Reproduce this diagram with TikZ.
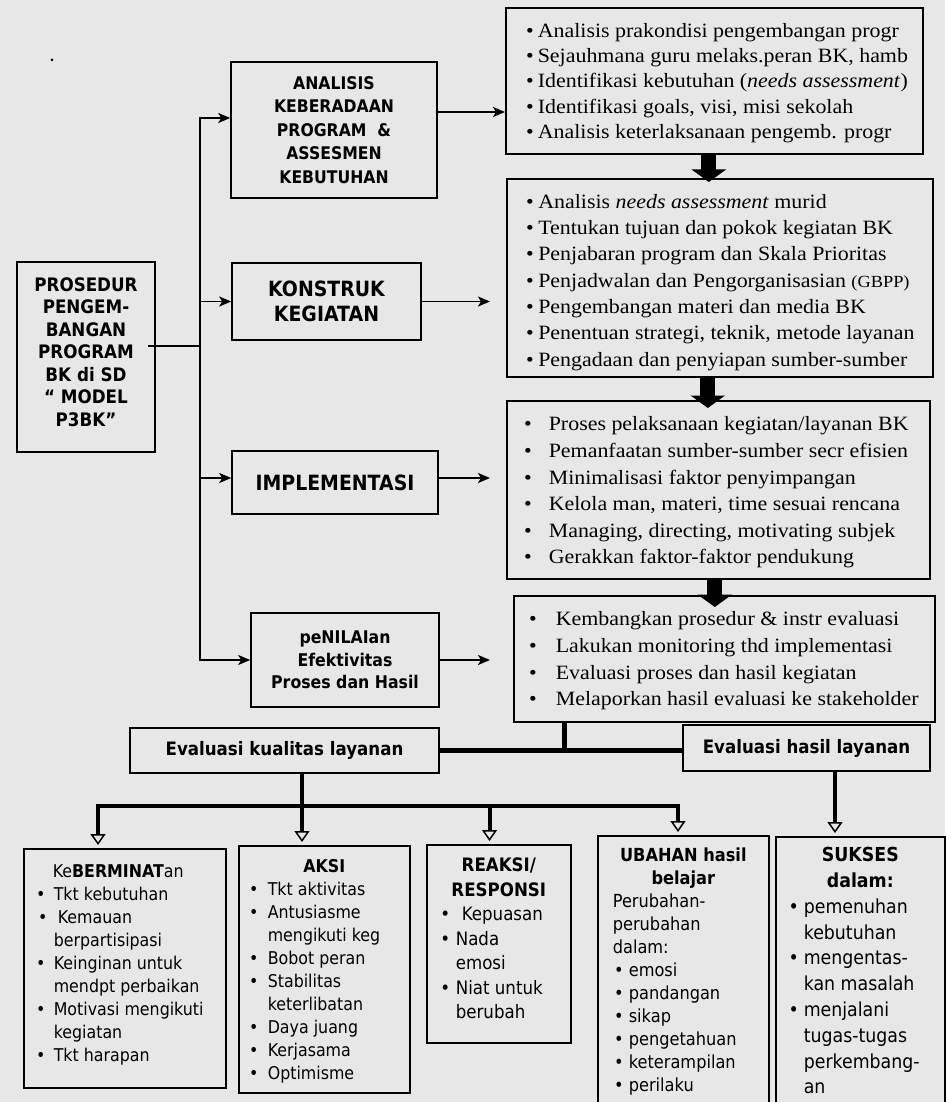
\documentclass[tikz,border=0pt]{standalone}
\usepackage{fontspec}
\setmainfont{Liberation Serif}[FakeStretch=1.08]
\newfontfamily\tah{DejaVu Sans}[FakeStretch=0.9]
\usetikzlibrary{arrows.meta,calc}
\definecolor{paper}{RGB}{231,231,231}
\newcommand{\bi}[3]{\hspace*{#1}\makebox[#2][l]{•}#3}
\tikzset{
  box/.style={draw=black, line width=1.6pt, inner sep=0pt},
  lbox/.style={box, align=center},
  conn/.style={line width=1.8pt},
  arr/.style={conn, -{Stealth[length=12pt,width=10pt,inset=3pt]}},
  blk/.style={line width=15pt, -{Triangle[width=34pt,length=12.5pt]}},
  thk/.style={line width=5pt},
  oarr/.style={line width=4pt, -{Triangle[open,length=11pt,width=15pt,line width=1.5pt]}, shorten >=3pt},
}
\begin{document}
\begin{tikzpicture}[x=1pt,y=-1pt]
\useasboundingbox (0,0) rectangle (945,1102);
\fill[paper] (0,0) rectangle (945,1102);
\fill (52,60) circle[radius=1.5pt];

% ---------- left column ----------
\node[lbox, minimum width=138pt, minimum height=190pt, font={\tah\bfseries\fontsize{18.6}{22.5}\selectfont}] (p) at (86,357)
  {PROSEDUR\\PENGEM-\\BANGAN\\PROGRAM\\BK di SD\\“ MODEL\\P3BK”\\[-12pt]\mbox{}};
\node[lbox, minimum width=206pt, minimum height=136pt, font={\tah\bfseries\fontsize{17.4}{23.5}\selectfont}] (a) at (334,130)
  {ANALISIS\\KEBERADAAN\\PROGRAM~~\&\\ASSESMEN\\KEBUTUHAN};
\node[lbox, minimum width=189pt, minimum height=77pt, font={\tah\bfseries\fontsize{21}{25}\selectfont}] (k) at (326.5,301.5)
  {KONSTRUK\\KEGIATAN};
\node[lbox, minimum width=206pt, minimum height=63pt, font={\tah\bfseries\fontsize{21}{25}\selectfont}] (i) at (335,482.5)
  {IMPLEMENTASI};
\node[lbox, minimum width=188pt, minimum height=94pt, font={\tah\bfseries\fontsize{17.5}{22.5}\selectfont}] (n) at (345,660)
  {peNILAIan\\Efektivitas\\Proses dan Hasil};

% ---------- right column ----------
\node[box, anchor=north west] (b1) at (505,7) {\parbox[c][146pt][t]{417pt}{\fontsize{20.3}{25.3}\selectfont\vspace*{11.8pt}%
\strut\bi{20.2pt}{11.8pt}{Analisis prakondisi pengembangan progr}\\
\bi{20.2pt}{11.8pt}{Sejauhmana guru melaks.peran BK, hamb}\\
\bi{20.2pt}{11.8pt}{Identifikasi kebutuhan (\textit{needs assessment})}\\
\bi{20.2pt}{11.8pt}{Identifikasi goals, visi, misi sekolah}\\
\bi{20.2pt}{11.8pt}{Analisis keterlaksanaan pengemb. progr}}};
\node[box, anchor=north west] (b2) at (506,178) {\parbox[c][198pt][t]{426pt}{\fontsize{20.3}{26.3}\selectfont\vspace*{11.1pt}%
\strut\bi{19.2pt}{12.3pt}{Analisis \textit{needs assessment} murid}\\
\bi{19.2pt}{12.3pt}{Tentukan tujuan dan pokok kegiatan BK}\\
\bi{19.2pt}{12.3pt}{Penjabaran program dan Skala Prioritas}\\
\bi{19.2pt}{12.3pt}{Penjadwalan dan Pengorganisasian {\fontsize{17}{26.3}\selectfont(GBPP)}}\\
\bi{19.2pt}{12.3pt}{Pengembangan materi dan media BK}\\
\bi{19.2pt}{12.3pt}{Penentuan strategi, teknik, metode layanan}\\
\bi{19.2pt}{12.3pt}{Pengadaan dan penyiapan sumber-sumber}}};
\node[box, anchor=north west] (b3) at (506,400) {\parbox[c][178pt][t]{423pt}{\fontsize{20.3}{26.6}\selectfont\vspace*{11.4pt}%
\strut\bi{17.2pt}{24.8pt}{Proses pelaksanaan kegiatan/layanan BK}\\
\bi{17.2pt}{24.8pt}{Pemanfaatan sumber-sumber secr efisien}\\
\bi{17.2pt}{24.8pt}{Minimalisasi faktor penyimpangan}\\
\bi{17.2pt}{24.8pt}{Kelola man, materi, time sesuai rencana}\\
\bi{17.2pt}{24.8pt}{Managing, directing, motivating subjek}\\
\bi{17.2pt}{24.8pt}{Gerakkan faktor-faktor pendukung}}};
\node[box, anchor=north west] (b4) at (513,595) {\parbox[c][126pt][t]{421pt}{\fontsize{20.3}{26.7}\selectfont\vspace*{11.3pt}%
\strut\bi{15.2pt}{26.8pt}{Kembangkan prosedur \& instr evaluasi}\\
\bi{15.2pt}{26.8pt}{Lakukan monitoring thd implementasi}\\
\bi{15.2pt}{26.8pt}{Evaluasi proses dan hasil kegiatan}\\
\bi{15.2pt}{26.8pt}{Melaporkan hasil evaluasi ke stakeholder}}};

% ---------- evaluation row ----------
\node[lbox, minimum width=309pt, minimum height=45pt, font={\tah\bfseries\fontsize{18.5}{22}\selectfont}] (ek) at (284.5,750.5)
  {Evaluasi kualitas layanan};
\node[lbox, minimum width=247pt, minimum height=46pt, font={\tah\bfseries\fontsize{18.5}{22}\selectfont}] (eh) at (806.5,748)
  {Evaluasi hasil layanan};

% ---------- bottom boxes ----------
\node[box, anchor=north west] (m) at (23,848) {\parbox[c][239pt][t]{202pt}{\tah\fontsize{17.6}{23}\selectfont\vspace*{12.9pt}%
\strut\hspace*{29pt}Ke\textbf{BERMINAT}an\\
\bi{12.3pt}{17.7pt}{Tkt kebutuhan}\\
\bi{14.3pt}{19.7pt}{Kemauan}\\
\hspace*{30pt}berpartisipasi\\
\bi{12.3pt}{17.7pt}{Keinginan untuk}\\
\hspace*{30pt}mendpt perbaikan\\
\bi{12.3pt}{17.7pt}{Motivasi mengikuti}\\
\hspace*{30pt}kegiatan\\
\bi{12.3pt}{17.7pt}{Tkt harapan}}};
\node[box, anchor=north west] (x) at (238,845) {\parbox[c][247pt][t]{171pt}{\tah\fontsize{17.6}{23}\selectfont\vspace*{10.9pt}%
\strut\makebox[\linewidth][c]{\bfseries AKSI}\\
\bi{10.3pt}{18.7pt}{Tkt aktivitas}\\
\bi{10.3pt}{18.7pt}{Antusiasme}\\
\hspace*{29pt}mengikuti keg\\
\bi{10.3pt}{18.7pt}{Bobot peran}\\
\bi{10.3pt}{18.7pt}{Stabilitas}\\
\hspace*{29pt}keterlibatan\\
\bi{10.3pt}{18.7pt}{Daya juang}\\
\bi{10.3pt}{18.7pt}{Kerjasama}\\
\bi{10.3pt}{18.7pt}{Optimisme}}};
\node[box, anchor=north west] (r) at (426,844) {\parbox[c][198pt][t]{144pt}{\tah\fontsize{18.5}{24.5}\selectfont\vspace*{9.85pt}%
\strut\makebox[\linewidth][c]{\bfseries REAKSI/}\\
\makebox[\linewidth][c]{\bfseries RESPONSI}\\
\bi{13.6pt}{21.4pt}{Kepuasan}\\
\bi{13.6pt}{15.4pt}{Nada}\\
\hspace*{29pt}emosi\\
\bi{13.6pt}{15.4pt}{Niat untuk}\\
\hspace*{29pt}berubah}};
\node[box, anchor=north west] (u) at (597,835) {\parbox[c][290pt][t]{171pt}{\tah\fontsize{18}{23}\selectfont\vspace*{9.9pt}%
\strut\makebox[\linewidth][c]{\bfseries UBAHAN hasil}\\
\makebox[\linewidth][c]{\bfseries belajar}\\
\hspace*{15pt}Perubahan-\\
\hspace*{15pt}perubahan\\
\hspace*{15pt}dalam:\\
\bi{16.2pt}{14.8pt}{emosi}\\
\bi{16.2pt}{14.8pt}{pandangan}\\
\bi{16.2pt}{14.8pt}{sikap}\\
\bi{16.2pt}{14.8pt}{pengetahuan}\\
\bi{16.2pt}{14.8pt}{keterampilan}\\
\bi{16.2pt}{14.8pt}{perilaku}}};
\node[box, anchor=north west] (s) at (775,836) {\parbox[c][290pt][t]{169pt}{\tah\fontsize{19.3}{25.8}\selectfont\vspace*{6.9pt}%
\strut\makebox[\linewidth][c]{\bfseries SUKSES}\\
\makebox[\linewidth][c]{\bfseries dalam:}\\
\bi{12.9pt}{15.1pt}{pemenuhan}\\
\hspace*{28pt}kebutuhan\\
\bi{12.9pt}{15.1pt}{mengentas-}\\
\hspace*{28pt}kan masalah\\
\bi{12.9pt}{15.1pt}{menjalani}\\
\hspace*{28pt}tugas-tugas\\
\hspace*{28pt}perkembang-\\
\hspace*{28pt}an}};

% ---------- connectors: left trunk ----------
\coordinate (tk) at (200,0);
\coordinate (aw) at ([yshift=12pt]a.west);
\coordinate (ae) at ([yshift=18pt]a.east);
\coordinate (iw) at ([yshift=4.5pt]i.west);
\coordinate (ie) at ([yshift=4.5pt]i.east);
\coordinate (pe) at ([xshift=-8pt,yshift=11pt]p.east);
\draw[conn, line cap=rect] (aw -| tk) -- (n.west -| tk);
\draw[conn] (pe) -- (pe -| tk);
\draw[arr] (aw -| tk) -- (aw);
\draw[arr] (k.west -| tk) -- (k.west);
\draw[arr] (iw -| tk) -- (iw);
\draw[arr] (n.west -| tk) -- (n.west);
\draw[arr] (ae) -- (ae -| b1.west);
\draw[arr, shorten >=16pt] (k.east) -- (k.east -| b2.west);
\draw[arr, shorten >=16pt] (ie) -- (ie -| b3.west);
\draw[arr, shorten >=23pt] (n.east) -- (n.east -| b4.west);

% ---------- block arrows ----------
\coordinate (t1) at ([xshift=-5.5pt]b1.south);
\coordinate (t2) at ([xshift=-12pt]b2.south);
\coordinate (t3) at ([xshift=-3.5pt]b3.south);
\draw[blk, shorten >=-4pt] (t1) -- (t1 |- b2.north);
\draw[blk, shorten >=-8pt] (t2) -- (t2 |- b3.north);
\draw[blk, shorten >=-12pt] (t3) -- (t3 |- b4.north);

% ---------- evaluation connectors ----------
\coordinate (b4s) at (b4.south -| 564,0);
\draw[thk] (b4s) -- (b4s |- ek.east);
\draw[thk] (ek.east) -- (ek.east -| eh.west);
\coordinate (eks) at (ek.south -| 302,0);
\coordinate (c1) at (98,806);
\coordinate (c3) at (489.5,806);
\coordinate (c4) at (678,806);
\draw[line width=4.5pt, line cap=rect] (c1) -- (c4);
\draw[oarr] (c1) -- (c1 |- m.north);
\draw[oarr] (eks) -- (eks |- x.north);
\draw[oarr] (c3) -- (c3 |- r.north);
\draw[oarr] (c4) -- (c4 |- u.north);
\coordinate (ehs) at (eh.south -| 835,0);
\draw[oarr] (ehs) -- (ehs |- s.north);
\end{tikzpicture}
\end{document}
